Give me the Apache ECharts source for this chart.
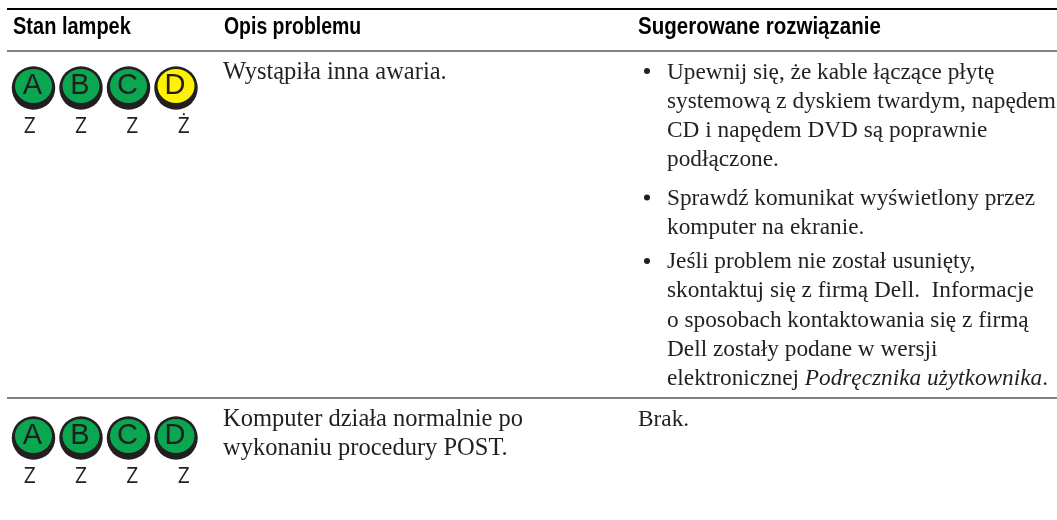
<!DOCTYPE html>
<html>
<head>
<meta charset="utf-8">
<style>html,body{margin:0;padding:0;background:#fff}#chart{width:1057px;height:520px}</style>
<script src="https://cdn.jsdelivr.net/npm/echarts@6/dist/echarts.min.js"></script>
</head>
<body>
<div id="chart"></div>
<script>
const lamps = ['A', 'B', 'C', 'D'];
const rows = ['Wiersz 1', 'Wiersz 2'];
const row1States = ['Z', 'Z', 'Z', 'Ż'];
const row2States = ['Z', 'Z', 'Z', 'Z'];
const headers = ['Stan lampek', 'Opis problemu', 'Sugerowane rozwiązanie'];
const problem1 = 'Wystąpiła inna awaria.';
const problem2 = 'Komputer działa normalnie po\nwykonaniu procedury POST.';
const solution1 = 'Upewnij się, że kable łączące płytę\nsystemową z dyskiem twardym, napędem\nCD i napędem DVD są poprawnie\npodłączone.';
const solution2 = 'Sprawdź komunikat wyświetlony przez\nkomputer na ekranie.';
const solution3 = 'Jeśli problem nie został usunięty,\nskontaktuj się z firmą Dell.  Informacje\no sposobach kontaktowania się z firmą\nDell zostały podane w wersji\nelektronicznej {i|Podręcznika użytkownika}.';
const solution4 = 'Brak.';

const stateColor = { 'Z': '#0aa650', 'Ż': '#fff200' };
const ink = '#231f20';
const serif = '"Liberation Serif", serif';
const sans = '"Liberation Sans", sans-serif';

var myChart = echarts.init(document.getElementById('chart'));

function toPoints(states, row) {
  return states.map((s, i) => ({ value: [lamps[i], row], state: s }));
}
const allPoints = toPoints(row1States, rows[0]).concat(toPoints(row2States, rows[1]));

function rule(y, color, width) {
  return { type: 'line', shape: { x1: 7, y1: y, x2: 1057, y2: y }, style: { stroke: color, lineWidth: width } };
}
function bodyText(x, y, text, size) {
  return {
    type: 'text', x: x, y: y,
    style: {
      text: text, fill: ink, font: size + 'px ' + serif, lineHeight: 29.2,
      rich: { i: { fontStyle: 'italic', fontFamily: serif, fontSize: size, lineHeight: 29.2, fill: ink } }
    }
  };
}
function headText(x, text, scale) {
  return { type: 'text', x: x, y: 16, scaleX: scale, style: { text: text, fill: '#000', font: 'bold 23px ' + sans } };
}
function bullet(y) {
  return { type: 'circle', shape: { cx: 647, cy: y, r: 3 }, style: { fill: ink } };
}

function hiddenAxis(data, inverse) {
  return { type: 'category', data: data, boundaryGap: false, inverse: inverse, show: false };
}

option = {
  animation: false,
  grid: [
    { left: 33.5, top: 88, width: 142.5, height: 350 },
    { left: 29.7, top: 127, width: 154, height: 350 }
  ],
  xAxis: [hiddenAxis(lamps, false), Object.assign(hiddenAxis(lamps, false), { gridIndex: 1 })],
  yAxis: [hiddenAxis(rows, true), Object.assign(hiddenAxis(rows, true), { gridIndex: 1 })],
  series: [
    {
      type: 'scatter', symbol: 'circle', symbolSize: 43.5, silent: true,
      itemStyle: { color: ink, opacity: 1 },
      data: allPoints
    },
    {
      type: 'scatter', symbol: 'circle', symbolSize: [37, 34], symbolOffset: [0, -2], silent: true,
      itemStyle: { opacity: 1, color: p => stateColor[p.data.state] },
      label: {
        show: true, position: 'inside', offset: [-1, 0],
        formatter: p => lamps[p.dataIndex % lamps.length],
        color: ink, fontFamily: sans, fontSize: 29
      },
      data: allPoints
    },
    {
      type: 'scatter', xAxisIndex: 1, yAxisIndex: 1, symbolSize: 0, silent: true,
      itemStyle: { opacity: 1 },
      label: {
        show: true, position: 'inside',
        formatter: p => p.data.state,
        color: ink, fontFamily: '"Open Sans", sans-serif', fontSize: 21
      },
      data: allPoints
    }
  ],
  graphic: [
    rule(9, '#000', 2.2),
    rule(51, '#808080', 2),
    rule(398, '#808080', 2),
    headText(13, headers[0], 0.87),
    headText(224, headers[1], 0.845),
    headText(638, headers[2], 0.892),
    bodyText(223, 58, problem1, 24.5),
    bodyText(223, 405, problem2, 24.5),
    bullet(71), bodyText(667, 58, solution1, 23.3),
    bullet(197.5), bodyText(667, 184, solution2, 23.3),
    bullet(261), bodyText(667, 247.5, solution3, 23.3),
    bodyText(638, 405, solution4, 23.3)
  ]
};

myChart.setOption(option);
</script>
</body>
</html>
